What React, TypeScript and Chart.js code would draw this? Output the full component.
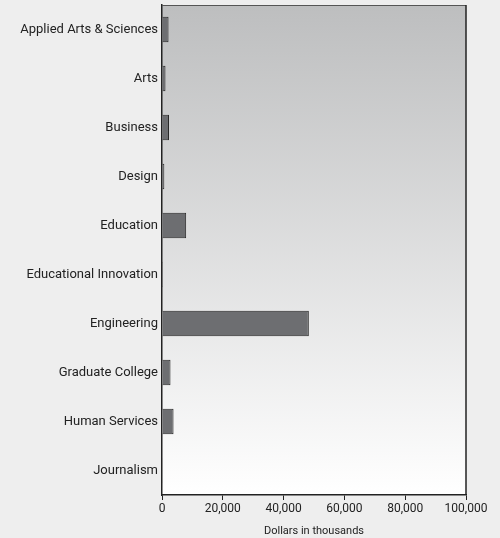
import React, { useEffect, useRef } from "react";
import { Chart, registerables } from "chart.js";

Chart.register(...registerables);

const categories = [
  "Applied Arts & Sciences",
  "Arts",
  "Business",
  "Design",
  "Education",
  "Educational Innovation",
  "Engineering",
  "Graduate College",
  "Human Services",
  "Journalism",
];
const values = [2150, 1150, 2300, 760, 7950, 330, 48300, 2800, 3800, 100];
const xTicks = [0, 20000, 40000, 60000, 80000, 100000];
const xTitle = "Dollars in thousands";

const FONT = "Roboto, sans-serif";

const bgPlugin = {
  id: "bgPlugin",
  beforeDraw(chart: any) {
    const { ctx, chartArea } = chart;
    if (!chartArea) return;
    const g = ctx.createLinearGradient(0, chartArea.top, 0, chartArea.bottom);
    g.addColorStop(0, "#bdbebf");
    g.addColorStop(1, "#ffffff");
    ctx.save();
    ctx.fillStyle = g;
    ctx.fillRect(chartArea.left, chartArea.top, chartArea.right - chartArea.left, chartArea.bottom - chartArea.top);
    ctx.restore();
  },
  afterDatasetsDraw(chart: any) {
    const { ctx, chartArea } = chart;
    ctx.save();
    ctx.strokeStyle = "#555555";
    ctx.lineWidth = 1;
    ctx.beginPath();
    ctx.moveTo(chartArea.left, chartArea.top + 0.5);
    ctx.lineTo(chartArea.right, chartArea.top + 0.5);
    ctx.stroke();
    ctx.strokeStyle = "#222222";
    ctx.lineWidth = 1.5;
    ctx.beginPath();
    ctx.moveTo(chartArea.right, chartArea.top);
    ctx.lineTo(chartArea.right, chartArea.bottom);
    ctx.stroke();
    ctx.restore();
  },
};

export default function App() {
  const ref = useRef<HTMLCanvasElement>(null);
  useEffect(() => {
    document.body.style.margin = "0";
    const ctx = ref.current!.getContext("2d")!;
    const chart = new Chart(ctx, {
      type: "bar",
      data: {
        labels: categories,
        datasets: [
          {
            data: values,
            backgroundColor: "#6d6e71",
            borderColor: "#262626",
            borderWidth: 1,
            categoryPercentage: 0.52,
            barPercentage: 1,
          },
        ],
      },
      options: {
        indexAxis: "y",
        animation: false,
        responsive: false,
        maintainAspectRatio: false,
        layout: { padding: { top: 5, right: 34, left: 0, bottom: 0 } },
        plugins: { legend: { display: false }, tooltip: { enabled: false } },
        scales: {
          x: {
            min: 0,
            max: 100000,
            afterBuildTicks(scale: any) {
              scale.ticks = xTicks.map((v) => ({ value: v }));
            },
            afterFit(scale: any) {
              scale.height = 43;
            },
            grid: {
              drawOnChartArea: false,
              drawTicks: true,
              tickLength: 5,
              color: "#222222",
            },
            border: { display: true, color: "#222222", width: 1.5 },
            ticks: {
              color: "#222222",
              font: { family: FONT, size: 12 },
              padding: 2,
              callback: (v: any) => Number(v).toLocaleString("en-US"),
            },
            title: {
              display: true,
              text: xTitle,
              color: "#222222",
              font: { family: FONT, size: 11 },
              padding: { top: 4, bottom: 0 },
            },
          },
          y: {
            afterFit(scale: any) {
              scale.width = 162;
              scale.paddingTop = 0;
              scale.paddingBottom = 0;
            },
            grid: { display: false, drawTicks: false },
            border: { display: true, color: "#222222", width: 1.5 },
            ticks: {
              color: "#222222",
              font: { family: FONT, size: 13 },
              padding: 4,
            },
          },
        },
      },
      plugins: [bgPlugin],
    });
    return () => chart.destroy();
  }, []);
  return (
    <div style={{ width: 500, height: 538, background: "#eeeeee" }}>
      <canvas ref={ref} width={500} height={538} style={{ display: "block" }} />
    </div>
  );
}
